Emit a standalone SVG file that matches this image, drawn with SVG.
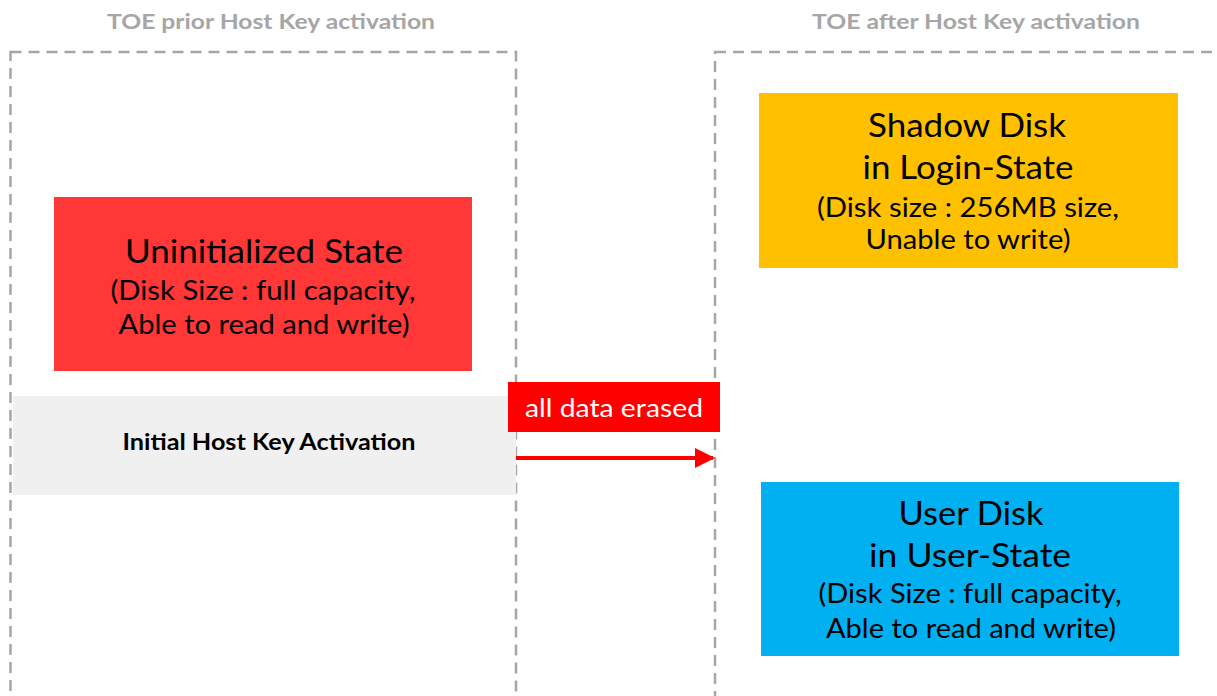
<svg xmlns="http://www.w3.org/2000/svg" width="1217" height="696" viewBox="0 0 1217 696">
<style>
.frame{fill:none;stroke:#a6a6a6;stroke-width:2.5;stroke-dasharray:11 7}
.title{font-family:Lato,"Liberation Sans",sans-serif;font-weight:bold;font-size:21px;fill:#a6a6a6;text-anchor:middle}
.big{font-family:Lato,"Liberation Sans",sans-serif;font-size:33px;fill:#000;text-anchor:middle}
.small{font-family:Lato,"Liberation Sans",sans-serif;font-size:27px;fill:#000;text-anchor:middle}
</style>
<defs>
<marker id="ah" markerWidth="5" markerHeight="5" refX="4.5" refY="2.5" orient="auto" markerUnits="strokeWidth">
<path d="M0,0 L5,2.5 L0,5 Z" fill="#ff0000"/>
</marker>
</defs>
<rect width="1217" height="696" fill="#fff"/>
<g id="frame-before">
<rect class="frame" x="10.5" y="52" width="505.5" height="660"/>
<text class="title" x="271" y="29" textLength="328" lengthAdjust="spacingAndGlyphs">TOE prior Host Key activation</text>
</g>
<g id="frame-after">
<rect class="frame" x="715" y="52" width="520" height="660"/>
<text class="title" x="976" y="29" textLength="328" lengthAdjust="spacingAndGlyphs">TOE after Host Key activation</text>
</g>
<g id="activation-band">
<rect x="13" y="396" width="503" height="99" fill="#f0f0f0"/>
<text x="269" y="450" font-family="Lato,'Liberation Sans',sans-serif" font-weight="bold" font-size="23" text-anchor="middle" fill="#000" textLength="293" lengthAdjust="spacingAndGlyphs">Initial Host Key Activation</text>
</g>
<g id="uninitialized">
<rect x="54" y="197" width="418" height="174" fill="#ff3737"/>
<text class="big" x="264" y="263" textLength="278" lengthAdjust="spacingAndGlyphs">Uninitialized State</text>
<text class="small" x="263" y="300" textLength="305" lengthAdjust="spacingAndGlyphs">(Disk Size : full capacity,</text>
<text class="small" x="264" y="334" textLength="291" lengthAdjust="spacingAndGlyphs">Able to read and write)</text>
</g>
<g id="shadow-disk">
<rect x="759" y="93" width="419" height="175" fill="#ffc000"/>
<text class="big" x="967" y="137" textLength="198" lengthAdjust="spacingAndGlyphs">Shadow Disk</text>
<text class="big" x="968" y="179" textLength="211" lengthAdjust="spacingAndGlyphs">in Login-State</text>
<text class="small" x="968" y="217" textLength="302" lengthAdjust="spacingAndGlyphs">(Disk size : 256MB size,</text>
<text class="small" x="968" y="249" textLength="205" lengthAdjust="spacingAndGlyphs">Unable to write)</text>
</g>
<g id="user-disk">
<rect x="761" y="482" width="418" height="174" fill="#00b0f0"/>
<text class="big" x="971" y="525" textLength="145" lengthAdjust="spacingAndGlyphs">User Disk</text>
<text class="big" x="970" y="567" textLength="202" lengthAdjust="spacingAndGlyphs">in User-State</text>
<text class="small" x="970" y="603" textLength="303" lengthAdjust="spacingAndGlyphs">(Disk Size : full capacity,</text>
<text class="small" x="971" y="638" textLength="290" lengthAdjust="spacingAndGlyphs">Able to read and write)</text>
</g>
<g id="connectors">
<line x1="516" y1="458" x2="713" y2="458" stroke="#ff0000" stroke-width="4" marker-end="url(#ah)"/>
<g id="erase-label">
<rect x="508" y="382" width="212" height="50" fill="#ff0000"/>
<text x="614" y="417" font-family="Lato,'Liberation Sans',sans-serif" font-size="25" fill="#fff" text-anchor="middle" textLength="178" lengthAdjust="spacingAndGlyphs">all data erased</text>
</g>
</g>
</svg>
